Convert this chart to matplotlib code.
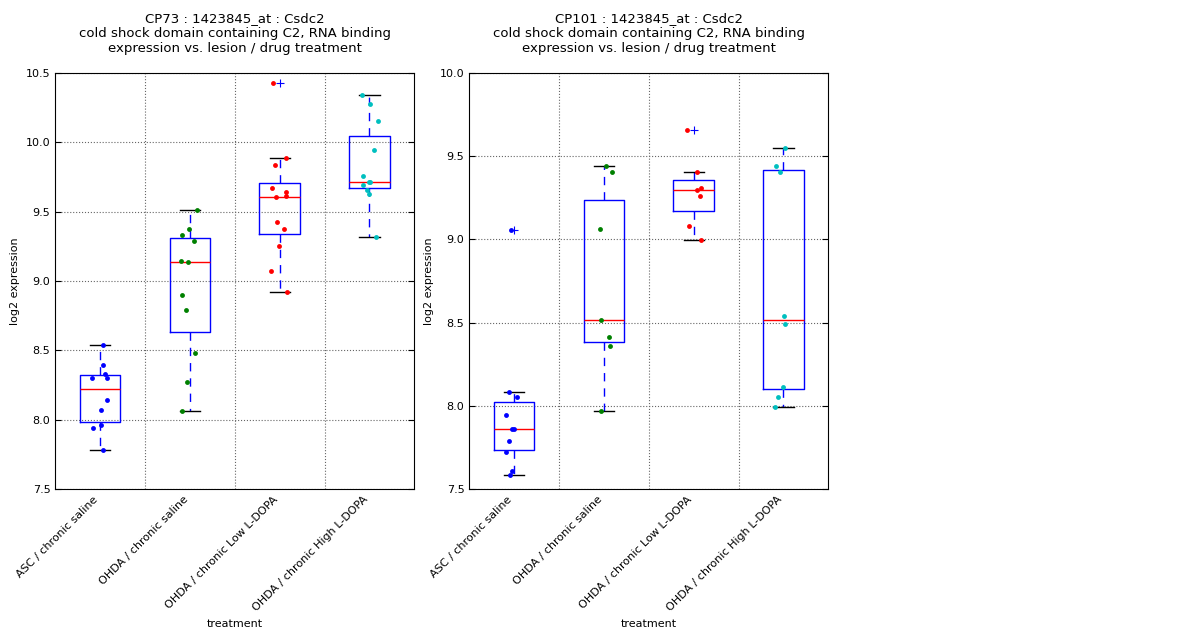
import numpy as np
import matplotlib
matplotlib.use('Agg')
import matplotlib.pyplot as plt

treatments = ['ASC / chronic saline', 'OHDA / chronic saline',
              'OHDA / chronic Low L-DOPA', 'OHDA / chronic High L-DOPA']
colors = ['b', 'g', 'r', 'c']

# CP73 values per group, with the horizontal jitter of each dot
cp73_asc = [8.536, 8.392, 8.327, 8.298, 8.298, 8.139, 8.067, 7.959, 7.937, 7.779]
cp73_asc_jit = [0.026, 0.026, 0.059, -0.093, 0.074, 0.074, 0.004, 0.004, -0.085, 0.026]
cp73_sal = [9.510, 9.373, 9.329, 9.291, 9.142, 9.135, 8.897, 8.788, 8.478, 8.269, 8.060]
cp73_sal_jit = [0.074, -0.015, -0.089, 0.041, -0.100, -0.026, -0.089, -0.048, 0.056, -0.037, -0.089]
cp73_low = [10.430, 9.885, 9.834, 9.668, 9.639, 9.611, 9.606, 9.423, 9.373, 9.250, 9.070, 8.918]
cp73_low_jit = [-0.076, 0.069, -0.054, -0.091, 0.069, 0.069, -0.043, -0.032, 0.046, -0.013, -0.102, 0.087]
cp73_high = [10.339, 10.276, 10.151, 9.942, 9.755, 9.716, 9.716, 9.690, 9.654, 9.630, 9.320]
cp73_high_jit = [-0.086, 0.004, 0.097, 0.048, -0.074, -0.007, 0.004, -0.074, -0.030, -0.007, 0.071]

# CP101 values per group
cp101_asc = [9.058, 8.085, 8.051, 7.943, 7.859, 7.859, 7.786, 7.720, 7.606, 7.586]
cp101_asc_jit = [-0.037, -0.063, 0.030, -0.093, -0.019, 0.0, -0.063, -0.093, -0.019, -0.041]
cp101_sal = [9.443, 9.407, 9.064, 8.518, 8.411, 8.357, 7.967]
cp101_sal_jit = [0.020, 0.091, -0.043, -0.032, 0.058, 0.069, -0.032]
cp101_low = [9.659, 9.407, 9.307, 9.295, 9.259, 9.078, 8.998]
cp101_low_jit = [-0.076, 0.035, 0.080, 0.035, 0.069, -0.054, 0.080]
cp101_high = [9.551, 9.443, 9.407, 8.542, 8.494, 8.115, 8.051, 7.991]
cp101_high_jit = [0.015, -0.082, -0.037, 0.007, 0.019, -0.007, -0.059, -0.093]

panels = [
    ('CP73', [cp73_asc, cp73_sal, cp73_low, cp73_high],
     [cp73_asc_jit, cp73_sal_jit, cp73_low_jit, cp73_high_jit], (7.5, 10.5)),
    ('CP101', [cp101_asc, cp101_sal, cp101_low, cp101_high],
     [cp101_asc_jit, cp101_sal_jit, cp101_low_jit, cp101_high_jit], (7.5, 10.0)),
]

fig = plt.figure(figsize=(12, 6.4), dpi=100)
lefts = [55.3 / 1200, 469.3 / 1200]

for (name, groups, jitters, ylim), left in zip(panels, lefts):
    ax = fig.add_axes([left, 151 / 640, 359 / 1200, 416 / 640])
    pos = np.arange(1, len(groups) + 1)
    ax.boxplot(groups, positions=pos, widths=0.45,
               boxprops=dict(color='b', linewidth=1),
               whiskerprops=dict(color='b', linestyle=(0, (6, 5)), linewidth=1),
               capprops=dict(color='k', linewidth=1),
               medianprops=dict(color='r', linewidth=1),
               flierprops=dict(marker='+', markeredgecolor='b', markersize=6,
                               markeredgewidth=0.8))
    for i, (vals, jit) in enumerate(zip(groups, jitters)):
        ax.plot(pos[i] + np.array(jit), vals, 'o', color=colors[i],
                markersize=3.5, markeredgewidth=0, zorder=5)

    ax.set_xlim(0.5, 4.5)
    ax.set_ylim(*ylim)
    ax.set_yticks(np.arange(ylim[0], ylim[1] + 0.01, 0.5))
    ax.set_xticks(pos)
    ax.set_xticklabels(treatments, rotation=45, ha='right', fontsize=8)
    ax.set_xticks([1.5, 2.5, 3.5], minor=True)
    ax.tick_params(axis='x', which='both', length=0, pad=4)
    ax.tick_params(axis='y', direction='in', length=4, right=True, labelsize=8)
    ax.grid(True, axis='y', which='major', color='0.4', linestyle=':', linewidth=0.8)
    ax.grid(True, axis='x', which='minor', color='0.4', linestyle=':', linewidth=0.8)
    ax.set_axisbelow(True)
    ax.set_ylabel('log2 expression', fontsize=8)
    ax.set_xlabel('treatment', fontsize=8)
    ax.set_title(name + ' : 1423845_at : Csdc2\n'
                 'cold shock domain containing C2, RNA binding\n'
                 'expression vs. lesion / drug treatment', fontsize=9.5, pad=15)

fig.savefig('out.png', dpi=100)
